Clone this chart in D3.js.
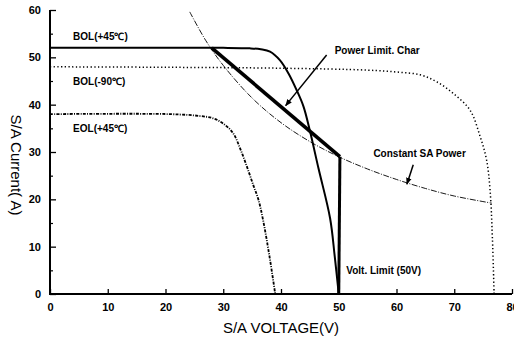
<!DOCTYPE html>
<html>
<head>
<meta charset="utf-8">
<script src="https://cdn.jsdelivr.net/npm/d3@7/dist/d3.min.js"></script>
<style>
html,body{margin:0;padding:0;background:#fff;}
svg text{font-family:"Liberation Sans",Arial,sans-serif;fill:#000;}
</style>
</head>
<body>
<svg id="chart" width="514" height="340"></svg>
<script>
// ---- data (V, A) ----
const xTicks = [0,10,20,30,40,50,60,70,80];
const yTicks = [0,10,20,30,40,50,60];
const yMinorTicks = [5,15,25,35,45,55];

const bol45 = [[0,52],[20,52],[30,52],[34.6,51.9],[36.5,51.7],[38.1,51.2],[39.8,49.4],[41.3,46.6],[42.7,43.1],[43.9,39.6],[44.9,35],[46.5,26.5],[48.5,16],[49.3,8],[50,0]];
const bolM90 = [[0,48],[20,47.9],[40,47.7],[55,47.3],[60,46.9],[64.1,46.3],[67,44.8],[69.8,42.4],[72.7,38.9],[74.5,33.2],[75.6,28.3],[76.2,22],[76.6,12],[76.9,0]];
const eol45 = [[0,38],[20.8,38],[26,37.6],[28.3,37.1],[30,36],[31.7,34],[33,30.5],[34.1,26.9],[35.2,23],[36.1,19.9],[36.9,15.6],[38,8],[39,0]];
const constPower = [[24.2,59.6],[27,53.5],[30,48.3],[35,41.4],[40,36.2],[45,32.2],[50,29],[55,26.4],[60,24.2],[65,22.3],[70,20.7],[76.5,19.2]];
const powerLimit = [[28,52],[50.2,29]];
const voltLimit = [[50.2,29],[50,0]];

const curveLabels = ["BOL(+45℃)","BOL(-90℃)","EOL(+45℃)"];
const noteLabels = ["Power Limit. Char","Constant SA Power","Volt. Limit (50V)"];
const xTitle = "S/A VOLTAGE(V)";
const yTitle = "S/A Current( A)";

// ---- drawing ----
const svg = d3.select("#chart");
const x = d3.scaleLinear().domain([0,80]).range([50,512]);
const y = d3.scaleLinear().domain([0,60]).range([294,10]);

svg.append("defs").append("marker")
  .attr("id","ah").attr("viewBox","0 0 10 10").attr("refX",9).attr("refY",5)
  .attr("markerWidth",7).attr("markerHeight",7).attr("markerUnits","userSpaceOnUse")
  .attr("orient","auto")
  .append("path").attr("d","M0,1 L10,5 L0,9 Z").attr("fill","#000");

const lineLin = d3.line().x(d=>x(d[0])).y(d=>y(d[1]));
const lineSmooth = d3.line().x(d=>x(d[0])).y(d=>y(d[1])).curve(d3.curveCatmullRom.alpha(0.5));

// axes
const xAxis = d3.axisBottom(x).tickValues(xTicks).tickSize(-5).tickPadding(9).tickFormat(d3.format("d"));
const gx = svg.append("g").attr("transform","translate(0,294)").call(xAxis);
gx.select(".domain").attr("stroke-width",2).attr("d","M49,0H512");
gx.selectAll(".tick line").attr("stroke-width",1.3);
gx.selectAll("text").attr("font-size",11).attr("font-weight","bold");

const yAxis = d3.axisLeft(y).tickValues(yTicks).tickSize(-6).tickPadding(9).tickFormat(d3.format("d"));
const gy = svg.append("g").attr("transform","translate(50,0)").call(yAxis);
gy.select(".domain").attr("stroke-width",2).attr("d","M0,10V295");
gy.selectAll(".tick line").attr("stroke-width",1.3);
gy.selectAll("text").attr("font-size",11).attr("font-weight","bold");

const yAxisMinor = d3.axisLeft(y).tickValues(yMinorTicks).tickSize(-3).tickFormat("");
const gym = svg.append("g").attr("transform","translate(50,0)").call(yAxisMinor);
gym.select(".domain").remove();
gym.selectAll(".tick line").attr("stroke-width",1.2);

// curves
svg.append("path").datum(constPower).attr("d",lineSmooth)
  .attr("fill","none").attr("stroke","#000").attr("stroke-width",0.9).attr("stroke-dasharray","6,1.5,1,1.5");
svg.append("path").datum(bol45).attr("d",lineSmooth)
  .attr("fill","none").attr("stroke","#000").attr("stroke-width",2);
svg.append("path").datum(bolM90).attr("d",lineSmooth)
  .attr("fill","none").attr("stroke","#000").attr("stroke-width",1.5).attr("stroke-dasharray","1.3,2.4");
svg.append("path").datum(eol45).attr("d",lineSmooth)
  .attr("fill","none").attr("stroke","#000").attr("stroke-width",1.8).attr("stroke-dasharray","3,1.3,1,1.3");
svg.append("path").datum(powerLimit).attr("d",lineLin)
  .attr("fill","none").attr("stroke","#000").attr("stroke-width",3.6);
svg.append("path").datum(voltLimit).attr("d",lineLin)
  .attr("fill","none").attr("stroke","#000").attr("stroke-width",3);

// curve labels
const labelPos = [[4,53.6],[4,44.2],[4,34.2]];
curveLabels.forEach((t,i)=>{
  svg.append("text").attr("x",x(labelPos[i][0])).attr("y",y(labelPos[i][1]))
    .attr("font-size",10).attr("font-weight","bold").text(t);
});

// notes
svg.append("text").attr("x",x(49.3)).attr("y",y(50.6)).attr("font-size",10).attr("font-weight","bold").text(noteLabels[0]);
svg.append("line").attr("x1",x(47.9)).attr("y1",y(50.5)).attr("x2",x(40.8)).attr("y2",y(39.8))
  .attr("stroke","#000").attr("stroke-width",1.5).attr("marker-end","url(#ah)");
svg.append("text").attr("x",x(56)).attr("y",y(28.9)).attr("font-size",10).attr("font-weight","bold").text(noteLabels[1]);
svg.append("line").attr("x1",x(62.9)).attr("y1",y(27.3)).attr("x2",x(61.8)).attr("y2",y(23.2))
  .attr("stroke","#000").attr("stroke-width",1.5).attr("marker-end","url(#ah)");
svg.append("text").attr("x",x(51.3)).attr("y",y(4.3)).attr("font-size",10).attr("font-weight","bold").text(noteLabels[2]);

// axis titles
svg.append("text").attr("x",281).attr("y",333).attr("text-anchor","middle")
  .attr("font-size",15).text(xTitle);
svg.append("text").attr("transform","translate(11,165) rotate(90)").attr("text-anchor","middle")
  .attr("font-size",15).text(yTitle);
</script>
</body>
</html>
